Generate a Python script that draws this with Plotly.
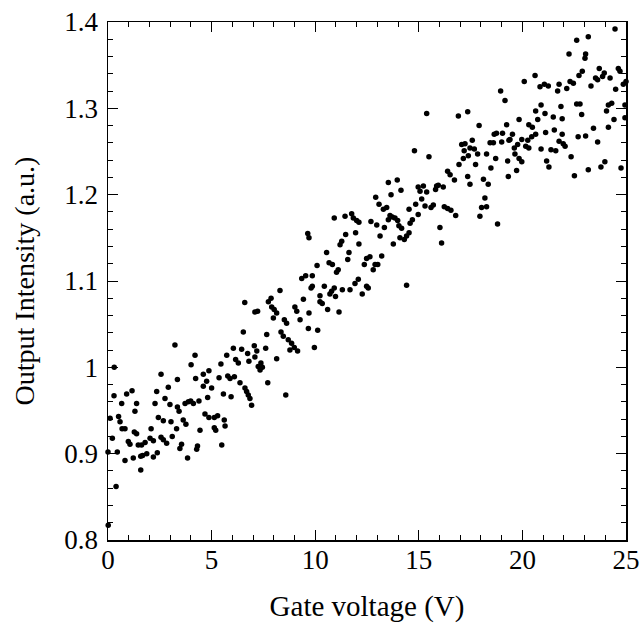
import plotly.graph_objects as go

# Gate voltage (V) and output intensity (a.u.)
gate_voltage = [
    0.29, 0.90, 1.16, 0.66, 1.38, 1.30, 2.35, 2.27, 2.43, 0.51, 0.10, 0.58, 0.68, 0.82, 1.27, 1.38, 2.08,
    0.21, 0.98, 1.06, 1.46, 1.62, 1.79, 2.03, 2.19, 0.00, 0.45, 1.87, 1.67, 1.58, 1.22, 0.82, 2.19, 2.38,
    1.58, 0.39, 0.01, 0.30,
    3.23, 4.20, 4.01, 2.56, 3.35, 4.60, 4.87, 4.23, 4.76, 4.60, 2.91, 2.75, 2.99, 3.35, 3.43, 3.72, 3.88,
    3.99, 4.12, 4.39, 4.81, 4.68, 4.87, 2.67, 3.04, 3.63, 3.76, 3.31, 4.44, 3.10, 2.56, 2.67, 2.83, 3.55,
    3.47, 4.32, 4.28, 3.84,
    7.09, 6.53, 7.06, 7.18, 6.74, 6.45, 6.05, 5.73, 6.16, 6.29, 6.80, 7.09, 7.25, 5.45, 5.36, 5.78, 5.89,
    6.10, 6.37, 5.00, 6.61, 6.69, 6.77, 6.85, 6.93, 5.57, 5.94, 5.29, 5.13, 5.61, 5.13, 5.20, 5.65, 5.49,
    6.60,
    9.35, 9.54, 8.30, 7.74, 7.87, 9.43, 7.22, 7.90, 8.02, 8.14, 7.98, 8.51, 8.62, 9.02, 9.11, 9.27, 9.70,
    9.67, 8.35, 8.46, 8.70, 8.86, 8.99, 8.78, 9.15, 7.66, 7.61, 7.38, 7.45, 7.34, 8.14, 7.71, 8.58,
    10.92, 11.44, 11.76, 11.84, 12.00, 12.11, 9.64, 9.70, 11.47, 11.95, 11.28, 11.20, 12.11, 10.55, 11.63,
    11.57, 10.67, 10.83, 10.09, 11.11, 11.03, 9.86, 12.08, 11.92, 9.86, 9.80, 10.44, 10.92, 10.79, 10.71,
    11.31, 11.68, 10.98, 10.23, 10.23, 10.34, 10.60, 11.15, 10.12, 9.96,
    13.53, 13.96, 13.66, 14.14, 12.92, 13.08, 13.29, 13.45, 14.53, 13.61, 13.72, 13.85, 13.98, 13.53, 12.69,
    12.97, 13.34, 14.04, 14.17, 14.58, 14.53, 13.13, 14.09, 14.30, 14.41, 13.77, 13.21, 12.64, 12.48, 12.37,
    12.89, 13.02, 12.80, 12.48, 12.56, 12.27, 14.41,
    15.38, 16.91, 14.79, 15.49, 16.94, 16.39, 16.51, 16.72, 14.97, 15.22, 15.06, 15.38, 15.86, 15.94, 16.18,
    15.81, 15.14, 14.85, 15.30, 15.59, 15.70, 16.23, 16.39, 16.55, 14.97, 16.78, 14.69, 16.02, 16.10,
    18.95, 19.16, 17.36, 17.91, 19.24, 18.64, 18.75, 19.04, 18.44, 18.60, 19.00, 19.35, 17.58, 17.07, 17.23,
    17.47, 17.68, 17.19, 17.39, 17.15, 17.84, 18.27, 18.71, 19.29, 17.74, 18.48, 19.32, 17.36, 18.12, 17.47,
    18.35, 18.19, 18.03, 18.27, 17.95, 18.80,
    20.09, 20.61, 20.85, 21.06, 21.25, 21.70, 21.77, 20.90, 20.64, 21.09, 19.84, 20.74, 21.49, 20.31, 20.48,
    21.54, 21.12, 19.52, 19.40, 20.64, 20.45, 19.97, 20.26, 19.77, 20.16, 20.31, 19.61, 20.90, 21.38, 21.61,
    21.77, 19.64, 19.84, 19.97, 21.17, 21.28, 19.72,
    24.47, 23.18, 22.62, 22.25, 23.05, 23.02, 22.89, 22.73, 23.71, 23.95, 23.87, 23.53, 23.63, 24.23, 24.63,
    24.71, 22.30, 22.46, 25.00, 22.14, 23.31, 24.50, 24.87, 22.62, 22.78, 21.86, 24.95, 24.15, 24.06, 24.31,
    22.86, 21.92, 24.95, 24.42, 24.15, 23.43, 21.92, 22.69, 23.05, 21.97, 22.06, 23.63, 22.35, 23.98, 23.79,
    23.18, 24.76, 22.51,
]
output_intensity = [
    0.967, 0.969, 0.973, 0.958, 0.958, 0.949, 0.972, 0.958, 0.942, 0.943, 0.941, 0.937, 0.929, 0.929, 0.925,
    0.923, 0.929, 0.918, 0.914, 0.911, 0.910, 0.910, 0.913, 0.918, 0.915, 0.902, 0.902, 0.900, 0.898, 0.897,
    0.895, 0.892, 0.896, 0.901, 0.881, 0.862, 0.817, 1.000,
    1.026, 1.014, 1.003, 0.992, 0.986, 0.992, 0.996, 0.987, 0.984, 0.978, 0.977, 0.964, 0.957, 0.954, 0.949,
    0.958, 0.960, 0.961, 0.958, 0.961, 0.965, 0.946, 0.942, 0.938, 0.937, 0.939, 0.934, 0.929, 0.927, 0.920,
    0.919, 0.916, 0.912, 0.911, 0.906, 0.909, 0.905, 0.895,
    1.064, 1.041, 1.025, 1.019, 1.016, 1.021, 1.022, 1.014, 1.009, 1.005, 1.007, 1.012, 1.001, 1.004, 0.988,
    0.990, 0.987, 0.989, 0.982, 0.976, 0.976, 0.972, 0.968, 0.964, 0.956, 0.969, 0.966, 0.944, 0.942, 0.939,
    0.930, 0.927, 0.932, 0.910, 1.075,
    1.103, 1.106, 1.089, 1.076, 1.080, 1.079, 1.065, 1.070, 1.067, 1.063, 1.057, 1.055, 1.051, 1.070, 1.065,
    1.055, 1.063, 1.045, 1.041, 1.036, 1.032, 1.028, 1.023, 1.020, 1.019, 1.038, 1.022, 1.005, 1.000, 0.997,
    1.010, 0.982, 0.968,
    1.173, 1.175, 1.178, 1.173, 1.170, 1.168, 1.155, 1.150, 1.154, 1.156, 1.146, 1.142, 1.143, 1.133, 1.133,
    1.125, 1.121, 1.119, 1.118, 1.113, 1.110, 1.106, 1.102, 1.097, 1.094, 1.092, 1.094, 1.092, 1.088, 1.085,
    1.090, 1.090, 1.082, 1.083, 1.076, 1.074, 1.067, 1.064, 1.043, 1.023,
    1.214, 1.217, 1.200, 1.205, 1.197, 1.189, 1.183, 1.185, 1.183, 1.176, 1.174, 1.173, 1.170, 1.171, 1.169,
    1.165, 1.162, 1.164, 1.161, 1.167, 1.156, 1.152, 1.150, 1.148, 1.152, 1.143, 1.129, 1.128, 1.126, 1.119,
    1.119, 1.119, 1.113, 1.094, 1.092, 1.085, 1.095,
    1.294, 1.291, 1.251, 1.244, 1.235, 1.227, 1.223, 1.217, 1.209, 1.210, 1.204, 1.203, 1.210, 1.211, 1.209,
    1.206, 1.195, 1.189, 1.187, 1.185, 1.188, 1.186, 1.184, 1.182, 1.177, 1.176, 1.171, 1.162, 1.144,
    1.320, 1.309, 1.296, 1.280, 1.281, 1.270, 1.271, 1.271, 1.260, 1.260, 1.261, 1.263, 1.263, 1.258, 1.259,
    1.254, 1.253, 1.251, 1.245, 1.242, 1.247, 1.247, 1.242, 1.239, 1.235, 1.231, 1.221, 1.221, 1.218, 1.212,
    1.212, 1.196, 1.185, 1.186, 1.175, 1.166,
    1.331, 1.338, 1.325, 1.328, 1.326, 1.320, 1.328, 1.304, 1.297, 1.294, 1.287, 1.287, 1.290, 1.281, 1.278,
    1.275, 1.272, 1.270, 1.264, 1.270, 1.267, 1.264, 1.263, 1.258, 1.256, 1.254, 1.254, 1.253, 1.252, 1.251,
    1.262, 1.247, 1.242, 1.238, 1.239, 1.232, 1.228,
    1.392, 1.383, 1.379, 1.363, 1.363, 1.358, 1.343, 1.338, 1.346, 1.341, 1.337, 1.335, 1.333, 1.335, 1.346,
    1.343, 1.331, 1.329, 1.331, 1.323, 1.326, 1.322, 1.328, 1.305, 1.305, 1.302, 1.304, 1.304, 1.297, 1.306,
    1.293, 1.288, 1.289, 1.287, 1.278, 1.277, 1.270, 1.267, 1.268, 1.259, 1.256, 1.261, 1.244, 1.238, 1.232,
    1.229, 1.231, 1.222,
]

x_tick_values = [0, 5, 10, 15, 20, 25]
x_tick_labels = ["0", "5", "10", "15", "20", "25"]
y_tick_values = [0.8, 0.9, 1.0, 1.1, 1.2, 1.3, 1.4]
y_tick_labels = ["0.8", "0.9", "1", "1.1", "1.2", "1.3", "1.4"]

FONT = "Liberation Serif"

fig = go.Figure(
    go.Scatter(
        x=gate_voltage,
        y=output_intensity,
        mode="markers",
        marker=dict(symbol="circle", size=5.5, color="black"),
        cliponaxis=False,
        hoverinfo="skip",
    )
)

axis_common = dict(
    showgrid=False,
    zeroline=False,
    showline=True,
    linecolor="black",
    linewidth=1.5,
    mirror="allticks",
    ticks="inside",
    ticklen=10,
    tickwidth=1,
    tickcolor="black",
    tickfont=dict(family=FONT, size=27, color="black"),
    automargin=False,
    ticklabeloverflow="allow",
)

fig.update_xaxes(
    **axis_common,
    range=[0, 25],
    tickvals=x_tick_values,
    ticktext=x_tick_labels,
    minor=dict(dtick=1, ticks="inside", ticklen=5, tickcolor="black", tickwidth=1),
    title=dict(text="Gate voltage (V)", font=dict(family=FONT, size=29, color="black"), standoff=22),
    ticklabelstandoff=-5,
)
fig.update_yaxes(
    **axis_common,
    range=[0.8, 1.4],
    tickvals=y_tick_values,
    ticktext=y_tick_labels,
    minor=dict(dtick=0.02, tick0=0.8, ticks="inside", ticklen=5, tickcolor="black", tickwidth=1),
    title=dict(text="Output Intensity (a.u.)", font=dict(family=FONT, size=28, color="black"), standoff=21),
    ticklabelstandoff=3,
)

fig.update_layout(
    width=640,
    height=623,
    margin=dict(l=108, r=14, t=22, b=83),
    plot_bgcolor="white",
    paper_bgcolor="white",
    showlegend=False,
    hovermode=False,
)

fig.write_html(
    "out.html",
    config={"displayModeBar": False, "staticPlot": True},
    post_script="document.body.style.margin='0';document.body.style.overflow='hidden';",
)
